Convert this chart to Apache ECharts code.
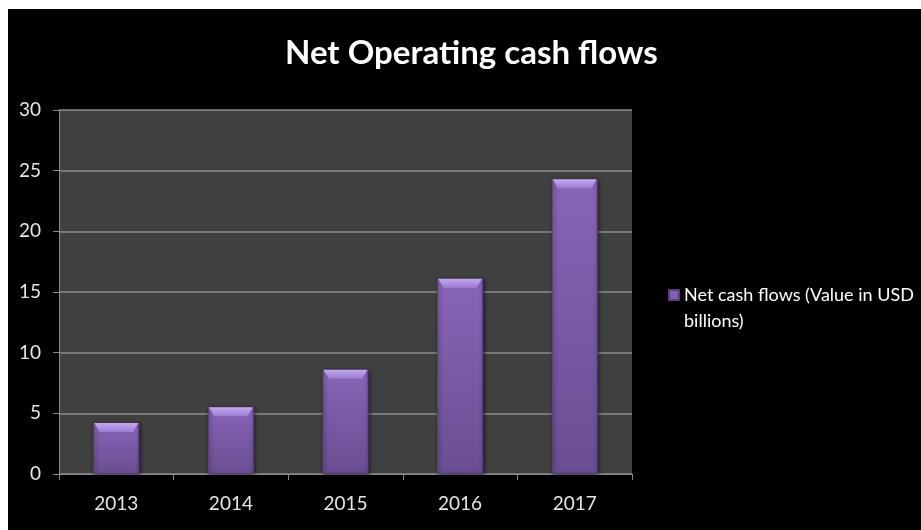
<!DOCTYPE html>
<html>
<head>
<meta charset="utf-8">
<script src="https://cdn.jsdelivr.net/npm/echarts@6/dist/echarts.min.js"></script>
<style>
  html, body { margin: 0; padding: 0; background: #ffffff; width: 921px; height: 530px; overflow: hidden; }
  #chart { position: absolute; left: 8px; top: 9px; width: 913px; height: 521px; }
</style>
</head>
<body>
<div id="chart"></div>
<script>
const titleText = 'Net Operating cash flows';
const seriesName = 'Net cash flows (Value in USD billions)';
const categories = ['2013', '2014', '2015', '2016', '2017'];
const values = [4.2, 5.5, 8.6, 16.1, 24.3];
const yTicks = { min: 0, max: 30, interval: 5 };

const chart = echarts.init(document.getElementById('chart'));
const font = 'Lato, "Open Sans", sans-serif';

const barFill = new echarts.graphic.LinearGradient(0, 0, 0, 1, [
  { offset: 0, color: '#8864b6' },
  { offset: 1, color: '#6a4e92' }
]);
const bevelFill = new echarts.graphic.LinearGradient(0, 0, 0, 1, [
  { offset: 0, color: '#c4a8f2' },
  { offset: 1, color: '#9c7cd2' }
]);

chart.setOption({
  backgroundColor: '#000000',
  animation: false,
  title: {
    text: titleText,
    left: 272,
    top: 23,
    textStyle: { color: '#ffffff', fontFamily: font, fontWeight: 'bold', fontSize: 33 }
  },
  legend: {
    left: 655,
    top: 268,
    orient: 'vertical',
    itemWidth: 10,
    itemHeight: 36,
    icon: 'path://M0,0L10,0L10,10L0,10Z M0,36L0.01,36',
    data: [{ name: seriesName, itemStyle: { color: '#8260b0' } }],
    formatter: function (name) { return name.replace(' billions', '\nbillions'); },
    textStyle: {
      color: '#ffffff', fontFamily: font, fontSize: 18, lineHeight: 26
    }
  },
  grid: {
    left: 51, top: 101, right: 289, bottom: 56,
    show: true, backgroundColor: '#404040', borderWidth: 0,
    containLabel: false
  },
  xAxis: {
    type: 'category',
    data: categories,
    boundaryGap: true,
    axisLine: { show: true, lineStyle: { color: '#8a8a8a', width: 1 } },
    axisTick: { show: true, length: 6, lineStyle: { color: '#8a8a8a' } },
    axisLabel: { color: '#e6e6e6', fontFamily: font, fontSize: 19, margin: 20 },
    splitLine: { show: false }
  },
  yAxis: {
    type: 'value',
    min: yTicks.min, max: yTicks.max, interval: yTicks.interval,
    axisLine: { show: true, lineStyle: { color: '#8a8a8a', width: 1 } },
    axisTick: { show: true, length: 6, lineStyle: { color: '#8a8a8a' } },
    axisLabel: { color: '#e6e6e6', fontFamily: font, fontSize: 19, margin: 18 },
    splitLine: { show: true, lineStyle: { color: '#8c8c8c', width: 1.5 } }
  },
  series: [
    {
      name: seriesName,
      type: 'bar',
      data: values,
      barWidth: 46,
      itemStyle: {
        color: barFill,
        borderColor: '#5a3e80',
        borderWidth: 1,
        shadowColor: 'rgba(0,0,0,0.6)',
        shadowBlur: 4,
        shadowOffsetX: 1,
        shadowOffsetY: 1
      },
      z: 2
    },
    {
      name: 'bevel',
      type: 'pictorialBar',
      data: values,
      symbol: 'path://M0,0 L100,0 L88,100 L12,100 Z',
      symbolSize: [44, 9],
      symbolPosition: 'end',
      symbolOffset: [0, 0],
      itemStyle: { color: bevelFill },
      silent: true,
      z: 3
    }
  ]
});
</script>
</body>
</html>
